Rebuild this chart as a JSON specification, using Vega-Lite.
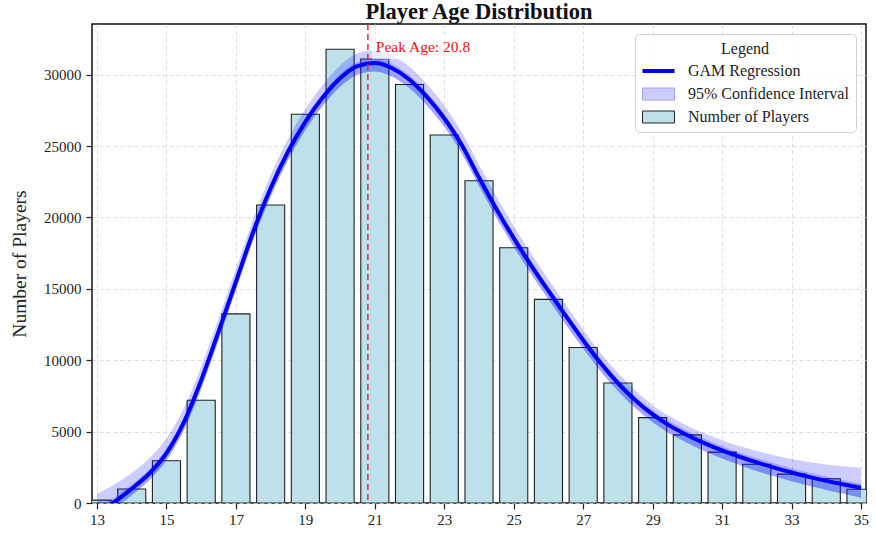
{
  "$schema": "https://vega.github.io/schema/vega-lite/v6.json",
  "width": 774,
  "height": 479,
  "autosize": {"type": "none"},
  "padding": {"left": 92, "top": 24, "right": 10, "bottom": 34},
  "title": {
    "text": "Player Age Distribution",
    "font": "Liberation Serif",
    "fontSize": 22.5,
    "fontWeight": "bold",
    "color": "#111",
    "anchor": "middle",
    "frame": "group",
    "offset": 0
  },
  "datasets": {
    "ages": [
      {"age": 13, "players": 200},
      {"age": 14, "players": 980},
      {"age": 15, "players": 2960},
      {"age": 16, "players": 7200},
      {"age": 17, "players": 13250},
      {"age": 18, "players": 20870},
      {"age": 19, "players": 27230},
      {"age": 20, "players": 31780},
      {"age": 21, "players": 31100},
      {"age": 22, "players": 29310},
      {"age": 23, "players": 25780},
      {"age": 24, "players": 22570},
      {"age": 25, "players": 17880},
      {"age": 26, "players": 14260},
      {"age": 27, "players": 10890},
      {"age": 28, "players": 8400},
      {"age": 29, "players": 5980},
      {"age": 30, "players": 4770},
      {"age": 31, "players": 3560},
      {"age": 32, "players": 2710},
      {"age": 33, "players": 2020},
      {"age": 34, "players": 1700},
      {"age": 35, "players": 960}
    ],
    "gam": [
      {"age": 13.0, "fit": -650, "ci_low": -1100, "ci_high": 650, "core_high": -350},
      {"age": 13.5, "fit": 80, "ci_low": -370, "ci_high": 1300, "core_high": 380},
      {"age": 14.0, "fit": 1000, "ci_low": 550, "ci_high": 2100, "core_high": 1300},
      {"age": 14.5, "fit": 2050, "ci_low": 1570, "ci_high": 3110, "core_high": 2350},
      {"age": 15.0, "fit": 3500, "ci_low": 2990, "ci_high": 4510, "core_high": 3800},
      {"age": 15.5, "fit": 5650, "ci_low": 5090, "ci_high": 6630, "core_high": 5950},
      {"age": 16.0, "fit": 8600, "ci_low": 8000, "ci_high": 9550, "core_high": 8900},
      {"age": 16.5, "fit": 12000, "ci_low": 11400, "ci_high": 12930, "core_high": 12300},
      {"age": 17.0, "fit": 15500, "ci_low": 14900, "ci_high": 16400, "core_high": 15800},
      {"age": 17.5, "fit": 19000, "ci_low": 18400, "ci_high": 19900, "core_high": 19300},
      {"age": 18.0, "fit": 22050, "ci_low": 21450, "ci_high": 22950, "core_high": 22350},
      {"age": 18.5, "fit": 24600, "ci_low": 24000, "ci_high": 25500, "core_high": 24900},
      {"age": 19.0, "fit": 26700, "ci_low": 26100, "ci_high": 27600, "core_high": 27000},
      {"age": 19.5, "fit": 28400, "ci_low": 27800, "ci_high": 29300, "core_high": 28700},
      {"age": 20.0, "fit": 29750, "ci_low": 29150, "ci_high": 30650, "core_high": 30050},
      {"age": 20.5, "fit": 30600, "ci_low": 30000, "ci_high": 31500, "core_high": 30900},
      {"age": 21.0, "fit": 30820, "ci_low": 30220, "ci_high": 31720, "core_high": 31120},
      {"age": 21.5, "fit": 30450, "ci_low": 29850, "ci_high": 31350, "core_high": 30750},
      {"age": 22.0, "fit": 29650, "ci_low": 29050, "ci_high": 30550, "core_high": 29950},
      {"age": 22.5, "fit": 28450, "ci_low": 27850, "ci_high": 29350, "core_high": 28750},
      {"age": 23.0, "fit": 26950, "ci_low": 26350, "ci_high": 27850, "core_high": 27250},
      {"age": 23.5, "fit": 25100, "ci_low": 24500, "ci_high": 26000, "core_high": 25400},
      {"age": 24.0, "fit": 22800, "ci_low": 22200, "ci_high": 23700, "core_high": 23100},
      {"age": 24.5, "fit": 20600, "ci_low": 20000, "ci_high": 21480, "core_high": 20900},
      {"age": 25.0, "fit": 18550, "ci_low": 17950, "ci_high": 19400, "core_high": 18850},
      {"age": 25.5, "fit": 16650, "ci_low": 16050, "ci_high": 17480, "core_high": 16950},
      {"age": 26.0, "fit": 14850, "ci_low": 14250, "ci_high": 15650, "core_high": 15150},
      {"age": 26.5, "fit": 13100, "ci_low": 12500, "ci_high": 13880, "core_high": 13400},
      {"age": 27.0, "fit": 11400, "ci_low": 10820, "ci_high": 12150, "core_high": 11700},
      {"age": 27.5, "fit": 9800, "ci_low": 9230, "ci_high": 10520, "core_high": 10100},
      {"age": 28.0, "fit": 8400, "ci_low": 7850, "ci_high": 9100, "core_high": 8700},
      {"age": 28.5, "fit": 7200, "ci_low": 6650, "ci_high": 7880, "core_high": 7500},
      {"age": 29.0, "fit": 6200, "ci_low": 5650, "ci_high": 6850, "core_high": 6500},
      {"age": 29.5, "fit": 5400, "ci_low": 4850, "ci_high": 6050, "core_high": 5700},
      {"age": 30.0, "fit": 4750, "ci_low": 4200, "ci_high": 5400, "core_high": 5050},
      {"age": 30.5, "fit": 4180, "ci_low": 3630, "ci_high": 4860, "core_high": 4480},
      {"age": 31.0, "fit": 3680, "ci_low": 3120, "ci_high": 4380, "core_high": 3980},
      {"age": 31.5, "fit": 3240, "ci_low": 2670, "ci_high": 3990, "core_high": 3540},
      {"age": 32.0, "fit": 2840, "ci_low": 2240, "ci_high": 3640, "core_high": 3140},
      {"age": 32.5, "fit": 2480, "ci_low": 1870, "ci_high": 3350, "core_high": 2780},
      {"age": 33.0, "fit": 2140, "ci_low": 1520, "ci_high": 3090, "core_high": 2440},
      {"age": 33.5, "fit": 1830, "ci_low": 1200, "ci_high": 2880, "core_high": 2130},
      {"age": 34.0, "fit": 1550, "ci_low": 910, "ci_high": 2700, "core_high": 1850},
      {"age": 34.5, "fit": 1300, "ci_low": 640, "ci_high": 2570, "core_high": 1600},
      {"age": 35.0, "fit": 1070, "ci_low": 370, "ci_high": 2470, "core_high": 1370}
    ]
  },
  "layer": [
    {
      "data": {"name": "ages"},
      "mark": {"type": "bar", "width": 28.1, "clip": true},
      "encoding": {
        "x": {
          "field": "age",
          "type": "quantitative",
          "scale": {"domain": [13, 35], "nice": false, "zero": false},
          "axis": {"title": null, "values": [13, 15, 17, 19, 21, 23, 25, 27, 29, 31, 33, 35], "labelPadding": 3}
        },
        "y": {
          "field": "players",
          "type": "quantitative",
          "scale": {"domain": [0, 33550], "nice": false},
          "axis": {
            "title": "Number of Players",
            "values": [0, 5000, 10000, 15000, 20000, 25000, 30000],
            "format": "d",
            "titleFontSize": 19.5,
            "titlePadding": 14,
            "labelPadding": 5
          }
        },
        "color": {
          "datum": "Number of Players",
          "type": "nominal",
          "scale": {
            "domain": ["GAM Regression", "95% Confidence Interval", "Number of Players"],
            "range": ["#0000ff", "#ccccff", "#bde0eb"]
          },
          "legend": {
            "title": "Legend",
            "orient": "top-right",
            "offset": 10,
            "titleFont": "Liberation Serif",
            "titleFontSize": 16,
            "titleFontWeight": "normal",
            "titleColor": "#222222",
            "titleAnchor": "middle",
            "titlePadding": 6,
            "labelFont": "Liberation Serif",
            "labelFontSize": 16,
            "labelColor": "#222222",
            "labelOffset": 30,
            "labelLimit": 300,
            "symbolSize": 225,
            "symbolType": {"expr": "datum.value === 'GAM Regression' ? 'M-1,-0.27H3.27V0.27H-1Z' : 'M-1,-0.8H3.27V0.8H-1Z'"},
            "symbolStrokeColor": {"expr": "datum.value === 'GAM Regression' ? '#0000ff' : (datum.value === 'Number of Players' ? '#222222' : '#a0a0ff')"},
            "symbolStrokeWidth": {"expr": "datum.value === 'GAM Regression' ? 0 : 1"},
            "symbolOpacity": 1,
            "rowPadding": 7,
            "padding": 7,
            "fillColor": "rgba(255,255,255,0.85)",
            "strokeColor": "#d4d4d4",
            "cornerRadius": 4
          }
        }
      }
    },
    {
      "data": {"name": "ages"},
      "mark": {"type": "bar", "width": 28.1, "clip": true, "fill": null, "fillOpacity": 0, "stroke": "#222222", "strokeWidth": 1.1},
      "encoding": {
        "x": {"field": "age", "type": "quantitative"},
        "y": {"field": "players", "type": "quantitative"}
      }
    },
    {
      "data": {"name": "gam"},
      "mark": {"type": "area", "clip": true, "fill": "#0000ff", "fillOpacity": 0.2, "interpolate": "monotone"},
      "encoding": {
        "x": {"field": "age", "type": "quantitative"},
        "y": {"field": "ci_low", "type": "quantitative"},
        "y2": {"field": "ci_high"}
      }
    },
    {
      "data": {"name": "gam"},
      "mark": {"type": "area", "clip": true, "fill": "#0000ff", "fillOpacity": 0.2, "interpolate": "monotone"},
      "encoding": {
        "x": {"field": "age", "type": "quantitative"},
        "y": {"field": "ci_low", "type": "quantitative"},
        "y2": {"field": "core_high"}
      }
    },
    {
      "data": {"name": "gam"},
      "mark": {"type": "line", "clip": true, "stroke": "#0000ff", "strokeWidth": 4, "interpolate": "monotone"},
      "encoding": {
        "x": {"field": "age", "type": "quantitative"},
        "y": {"field": "fit", "type": "quantitative"}
      }
    },
    {
      "data": {"values": [{}]},
      "mark": {"type": "rule", "color": "#e8232b", "strokeWidth": 1.6, "strokeDash": [6, 4], "opacity": 0.9},
      "encoding": {"x": {"datum": 20.8}}
    },
    {
      "data": {"values": [{}]},
      "mark": {"type": "rect", "fill": "white", "opacity": 0.65},
      "encoding": {
        "x": {"datum": 20.92},
        "x2": {"datum": 23.88},
        "y": {"datum": 31080},
        "y2": {"datum": 32850}
      }
    },
    {
      "data": {"values": [{}]},
      "mark": {"type": "text", "text": "Peak Age: 20.8", "font": "Liberation Serif", "fontSize": 15.5, "color": "#ee1111", "align": "left", "baseline": "middle", "dx": 8},
      "encoding": {
        "x": {"datum": 20.8},
        "y": {"datum": 31950}
      }
    }
  ],
  "config": {
    "font": "Liberation Serif",
    "view": {"stroke": "#111111", "strokeWidth": 1.5},
    "axis": {
      "labelFont": "Liberation Serif",
      "labelFontSize": 15,
      "labelColor": "#222222",
      "tickColor": "#222222",
      "tickSize": 6,
      "tickWidth": 1.2,
      "domain": false,
      "grid": true,
      "gridColor": "#d6d6d6",
      "gridDash": [4, 3],
      "gridWidth": 0.8,
      "titleFont": "Liberation Serif",
      "titleFontWeight": "normal",
      "titleColor": "#222222"
    }
  }
}
